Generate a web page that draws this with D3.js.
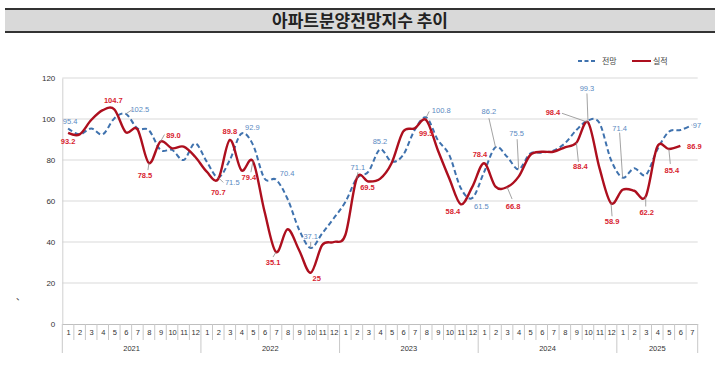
<!DOCTYPE html>
<html>
<head>
<meta charset="utf-8">
<script src="https://cdn.jsdelivr.net/npm/d3@7"></script>
<style>
  body { margin: 0; background: #fff; }
  text { font-family: "Liberation Sans", Arial, sans-serif; }
</style>
</head>
<body>
<script>
// chart data
const years = [2021, 2022, 2023, 2024, 2025];
const monthCounts = [12, 12, 12, 12, 7];
const yTicks = [0, 20, 40, 60, 80, 100, 120];

// 전망 (outlook)
const forecast = [
  95.4, 92.5, 95.4, 92.5, 100.3, 102.5, 95.4, 94.5, 84.9, 84.9, 80.0, 88.1,
  79.2, 71.5, 80.0, 92.9, 87.5, 71.0, 70.4, 61.0, 46.0, 37.1, 44.2, 51.6,
  59.5, 71.1, 74.3, 85.2, 79.2, 82.4, 94.6, 100.8, 89.8, 82.4, 66.2, 61.5,
  74.0, 86.2, 81.6, 75.5, 83.2, 83.6, 84.6, 88.1, 94.6, 99.3, 98.0, 80.0,
  71.4, 76.0, 72.7, 85.0, 93.8, 94.6, 97
];
// 실적 (actual), no value yet for the last month
const actual = [
  93.2, 92.5, 99.5, 104.3, 104.7, 93.5, 95.0, 78.5, 89.0, 85.7, 86.5, 81.6,
  74.3, 70.7, 89.8, 75.0, 79.4, 55.0, 35.1, 46.2, 36.0, 25, 38.5, 40.0,
  43.4, 71.2, 69.5, 70.8, 78.4, 93.8, 95.4, 99.5, 84.9, 71.0, 58.4, 67.0,
  78.4, 67.0, 66.8, 71.9, 82.4, 84.0, 84.0, 86.2, 88.4, 98.4, 76.0, 58.9,
  65.5, 65.0, 62.2, 86.5, 85.4, 86.9
];

// which points get a data label (s: series, i: month index)
const labelLayout = [
  { s: "f", i: 0, dx: 2, dy: -4 },
  { s: "a", i: 0, dx: 0, dy: 11 },
  { s: "a", i: 4, dx: -1, dy: -6 },
  { s: "f", i: 5, dx: 14, dy: -2, lead: [6, -4] },
  { s: "a", i: 7, dx: -4, dy: 15, lead: [-1, 7] },
  { s: "a", i: 8, dx: 13, dy: -4, lead: [4, -7] },
  { s: "a", i: 13, dx: 0, dy: 16 },
  { s: "f", i: 13, dx: 14, dy: 8, lead: [5, 5] },
  { s: "a", i: 14, dx: 0, dy: -6 },
  { s: "f", i: 15, dx: 11, dy: -4 },
  { s: "a", i: 16, dx: -4, dy: 19, lead: [-2, 11] },
  { s: "f", i: 18, dx: 11, dy: -4 },
  { s: "a", i: 18, dx: -3, dy: 12.5, lead: [-3, 5] },
  { s: "f", i: 21, dx: 0, dy: -9, lead: [0, -6] },
  { s: "a", i: 21, dx: 6, dy: 8, dec: 0 },
  { s: "f", i: 25, dx: 1, dy: -8, lead: [1, -6] },
  { s: "a", i: 26, dx: -1, dy: 8 },
  { s: "f", i: 27, dx: 0, dy: -5 },
  { s: "f", i: 31, dx: 15, dy: -4, lead: [3, -6] },
  { s: "a", i: 31, dx: 0, dy: 16 },
  { s: "a", i: 34, dx: -8, dy: 10 },
  { s: "f", i: 35, dx: 9, dy: 11.5 },
  { s: "a", i: 36, dx: -4, dy: -6 },
  { s: "f", i: 37, dx: -6.6, dy: -33, lead: [-6.6, -29] },
  { s: "a", i: 38, dx: 6, dy: 22, lead: [5, 12] },
  { s: "f", i: 39, dx: -2, dy: -33, lead: [-1.5, -30] },
  { s: "a", i: 45, dx: -35, dy: -6.8, lead: [-26, -9] },
  { s: "f", i: 45, dx: -1, dy: -29.4, lead: [-1, -27] },
  { s: "a", i: 44, dx: 4, dy: 26.7, lead: [2, 19] },
  { s: "f", i: 48, dx: -3, dy: -47, lead: [-3, -45] },
  { s: "a", i: 47, dx: 1, dy: 21, lead: [1, 13] },
  { s: "a", i: 50, dx: 1, dy: 18.5, lead: [0, 10] },
  { s: "a", i: 52, dx: 3, dy: 24, lead: [1.5, 15] },
  { s: "f", i: 54, dx: 5, dy: 3, dec: 0 },
  { s: "a", i: 53, dx: 14, dy: 3 }
];

const W = 719, H = 373;
const blue = "#3f72ae", blueText = "#5a8ac2";
const red = "#ad0f1e", redText = "#d8232f";

const months = [];
years.forEach((yr, k) => {
  d3.range(1, monthCounts[k] + 1).forEach(m => months.push({ year: yr, month: m }));
});

const svg = d3.select("body").append("svg")
  .attr("width", W)
  .attr("height", H);

// title band
svg.append("rect").attr("x", 5).attr("y", 9).attr("width", 710).attr("height", 23)
  .attr("fill", "#d9d9d9");
svg.append("line").attr("x1", 5).attr("x2", 715).attr("y1", 9).attr("y2", 9)
  .attr("stroke", "#333").attr("stroke-width", 2);
svg.append("line").attr("x1", 5).attr("x2", 715).attr("y1", 32).attr("y2", 32)
  .attr("stroke", "#333").attr("stroke-width", 2);
svg.append("text")
  .attr("x", 360).attr("y", 27)
  .attr("text-anchor", "middle")
  .style("font-family", "'Noto Sans CJK KR', sans-serif")
  .style("font-size", "17px")
  .style("font-weight", "bold")
  .attr("fill", "#222")
  .text("아파트분양전망지수 추이");

const x = d3.scaleLinear().domain([-0.5, months.length - 0.5]).range([62.3, 697.7]);
const y = d3.scaleLinear().domain([0, 120]).range([324, 78]);

// gridlines
svg.append("g").selectAll("line")
  .data(yTicks.filter(t => t > 0))
  .enter().append("line")
  .attr("x1", x(-0.5)).attr("x2", x(months.length - 0.5))
  .attr("y1", d => y(d)).attr("y2", d => y(d))
  .attr("stroke", "#d9d9d9").attr("stroke-width", 1);

// y axis
const yAxis = svg.append("g")
  .attr("transform", `translate(${x(-0.5)},0)`)
  .call(d3.axisLeft(y).tickValues(yTicks).tickSize(0).tickPadding(7));
yAxis.select(".domain").attr("stroke", "#d0d0d0");
yAxis.selectAll("text").style("font-size", "8px").attr("fill", "#333");

// x axis: months row + years row
const xAxis = svg.append("g")
  .attr("transform", `translate(0,${y(0)})`)
  .call(d3.axisBottom(x).tickValues(d3.range(months.length)).tickSize(0).tickPadding(6)
    .tickFormat(i => months[i].month));
xAxis.select(".domain").attr("stroke", "#bfbfbf");
xAxis.selectAll("text").style("font-size", "7.5px").attr("fill", "#333");

svg.append("g").selectAll("line")
  .data(d3.range(months.length + 1))
  .enter().append("line")
  .attr("x1", i => x(i - 0.5)).attr("x2", i => x(i - 0.5))
  .attr("y1", y(0))
  .attr("y2", i => (i === 0 || i === months.length || months[i].month === 1) ? y(0) + 29 : y(0) + 16)
  .attr("stroke", "#c8c8c8").attr("stroke-width", 1);

let start = 0;
years.forEach((yr, k) => {
  const mid = start + (monthCounts[k] - 1) / 2;
  svg.append("text")
    .attr("x", x(mid)).attr("y", y(0) + 27)
    .attr("text-anchor", "middle")
    .style("font-size", "7.5px")
    .attr("fill", "#333")
    .text(yr);
  start += monthCounts[k];
});

// lines
const line = d3.line()
  .x((d, i) => x(i))
  .y(d => y(d))
  .curve(d3.curveCardinal.tension(0));

svg.append("path")
  .datum(forecast)
  .attr("d", line)
  .attr("fill", "none")
  .attr("stroke", blue)
  .attr("stroke-width", 2)
  .attr("stroke-dasharray", "5,3");

svg.append("path")
  .datum(actual)
  .attr("d", line)
  .attr("fill", "none")
  .attr("stroke", red)
  .attr("stroke-width", 2.4);

// data labels + leader lines
labelLayout.forEach(l => {
  const v = l.s === "f" ? forecast[l.i] : actual[l.i];
  const px = x(l.i), py = y(v);
  if (l.lead) {
    svg.append("line")
      .attr("x1", px).attr("y1", py)
      .attr("x2", px + l.lead[0]).attr("y2", py + l.lead[1])
      .attr("stroke", "#8c8c8c").attr("stroke-width", 0.8);
  }
  svg.append("text")
    .attr("x", px + l.dx).attr("y", py + l.dy)
    .attr("text-anchor", "middle")
    .style("font-size", "7.5px")
    .style("font-weight", l.s === "a" ? "bold" : "normal")
    .attr("fill", l.s === "a" ? redText : blueText)
    .text(v.toFixed(l.dec === 0 ? 0 : 1));
});

// legend
const legend = svg.append("g").attr("transform", "translate(578,61)");
legend.append("line").attr("x1", 0).attr("x2", 19).attr("y1", 0).attr("y2", 0)
  .attr("stroke", blue).attr("stroke-width", 2).attr("stroke-dasharray", "4,2.5");
legend.append("text").attr("x", 24).attr("y", 3)
  .style("font-family", "'Noto Sans CJK KR', sans-serif")
  .style("font-size", "8px").attr("fill", "#444").text("전망");
legend.append("line").attr("x1", 54).attr("x2", 73).attr("y1", 0).attr("y2", 0)
  .attr("stroke", red).attr("stroke-width", 2);
legend.append("text").attr("x", 75).attr("y", 3)
  .style("font-family", "'Noto Sans CJK KR', sans-serif")
  .style("font-size", "8px").attr("fill", "#444").text("실적");

// stray mark from the source image
svg.append("text").attr("x", 16).attr("y", 300)
  .style("font-family", "'Noto Sans CJK KR', sans-serif")
  .style("font-size", "9px").attr("fill", "#333").text("、");
</script>
</body>
</html>
